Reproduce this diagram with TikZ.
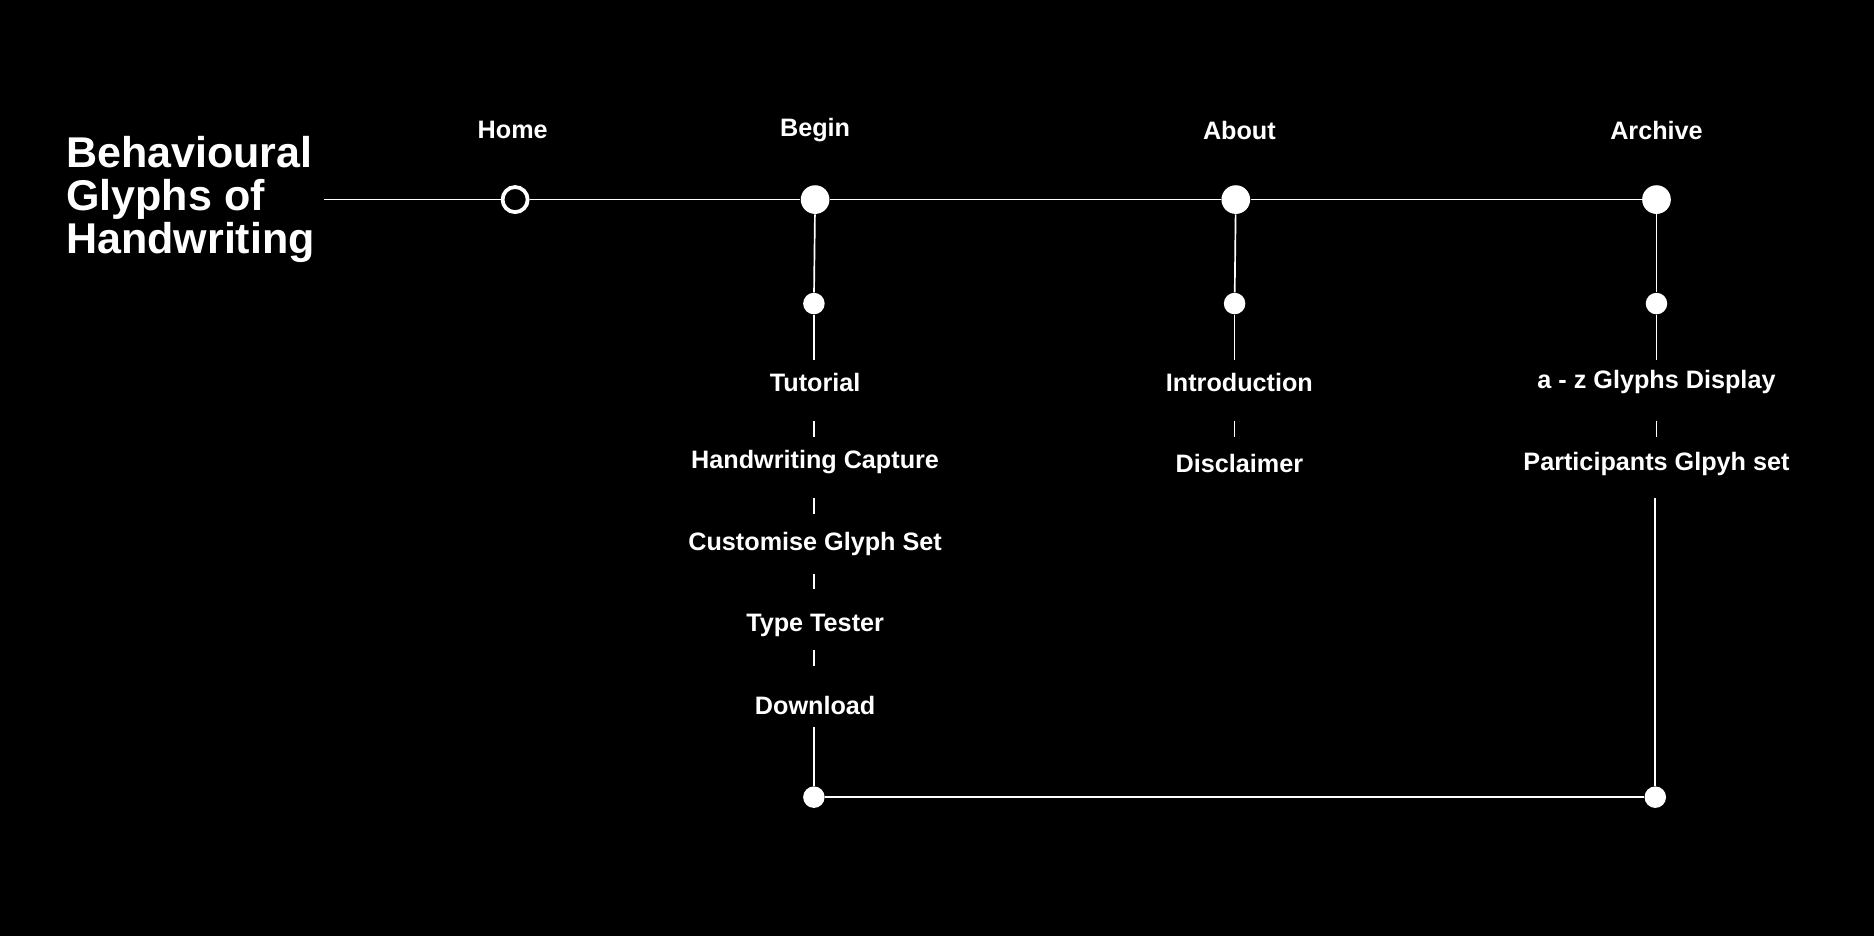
\documentclass[tikz,border=0pt]{standalone}
\usepackage{fontspec}
\setmainfont{Liberation Sans}
\begin{document}
\begin{tikzpicture}[x=0.02cm,y=-0.02cm,
  lbl/.style={text=white,font=\bfseries\fontsize{12}{14}\selectfont,inner sep=0pt},
  big/.style={circle,fill=white,minimum size=24*0.02cm,inner sep=0pt},
  small/.style={circle,fill=white,minimum size=18*0.02cm,inner sep=0pt},
  ln/.style={white,line width=0.8pt}]
\fill[black] (0,0) rectangle (1568,783);
\useasboundingbox (0,0) rectangle (1568,783);
\node[text=white,font=\bfseries\fontsize{20.5}{21.5}\selectfont,align=left,anchor=west,inner sep=0pt] (title) at (55,167) {Behavioural\\[-1pt]Glyphs of\\[-1pt]Handwriting};
\coordinate (start) at (271,167);
\node[circle,draw=white,line width=1.8pt,fill=black,minimum size=21*0.02cm,inner sep=0pt] (home) at (431,167) {};
\node[big] (begin) at (682,167) {};
\node[big] (about) at (1034,167) {};
\node[big] (archive) at (1386,167) {};
\node[lbl] (homel) at (429,109) {Home};
\node[lbl] (beginl) at (682,109) {Begin};
\node[lbl] (aboutl) at (1037,109) {About};
\node[lbl] (archivel) at (1386,109) {Archive};
\draw[ln] (start) -- (home) -- (begin) -- (about) -- (archive);
\node[small] (bs) at (681,254) {};
\node[small] (as) at (1033,254) {};
\node[small] (rs) at (1386,254) {};
\draw[ln] (begin) -- (bs); \draw[ln] (about) -- (as); \draw[ln] (archive) -- (rs);
% begin column
\node[lbl] (tut) at (682,320) {Tutorial};
\node[lbl] (hc) at (682,387) {Handwriting Capture};
\node[lbl] (cgs) at (682,455) {Customise Glyph Set};
\node[lbl] (tt) at (682,523) {Type Tester};
\node[lbl] (dl) at (682,590) {Download};
\draw[ln] (bs) -- (681,301);
\draw[ln] (681,352) -- (681,366);
\draw[ln] (681,417) -- (681,430);
\draw[ln] (681,480) -- (681,493);
\draw[ln] (681,544) -- (681,557);
\node[small] (bb) at (681,667) {};
\draw[ln] (681,608) -- (bb);
% about column
\node[lbl] (intro) at (1037,320) {Introduction};
\node[lbl] (disc) at (1037,388) {Disclaimer};
\draw[ln] (as) -- (1033,301);
\draw[ln] (1033,352) -- (1033,366);
% archive column
\node[lbl] (az) at (1386,320) {a - z Glyphs Display};
\node[lbl] (part) at (1386,388) {Participants Glpyh set};
\draw[ln] (rs) -- (1386,301);
\draw[ln] (1386,352) -- (1386,366);
\node[small] (rb) at (1385,667) {};
\draw[ln] (1385,417) -- (rb);
\draw[ln] (bb) -- (rb);
\end{tikzpicture}
\end{document}
